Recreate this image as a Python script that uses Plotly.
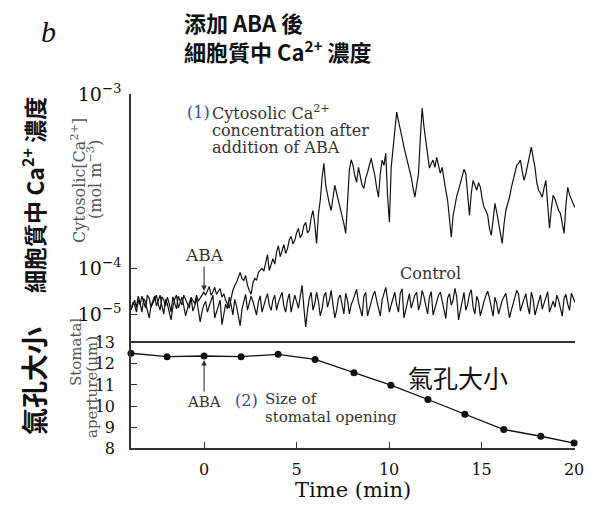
import numpy as np
import plotly.graph_objects as go

W, H = 593, 509

# ---------------- data ----------------
# cytosolic Ca2+ in micromol m^-3 (1e-6 mol m^-3): 10 -> 10^-5, 100 -> 10^-4, 1000 -> 10^-3 mol m^-3
ca_aba = [
    12.2, 18, 15.7, 11, 20.2, 16, 24.6, 17, 13.5, 26, 22.3, 14, 17.4, 21, 25.9, 16, 12.2, 24, 20.2, 15, 23.4,
    17, 11.0, 24, 18.2, 13, 24.6, 19, 15.7, 26, 21.2, 16, 13.5, 23, 20.2, 17, 25.9, 19, 22.3, 27, 30.1,
    26,
    33.2, 40, 25.9, 30, 38.6, 27, 31.6, 36, 23.4, 28, 20.2, 17, 13.5, 22, 33.2, 42, 49.6, 64, 81.9, 60, 54.8,
    70, 42.7, 33, 27.2, 48, 60.6, 55, 81.9, 92, 100, 88, 108, 120, 90.5, 104, 114, 106, 124,
    135,
    117, 126, 137, 122, 130, 146, 153, 138, 145, 160, 170, 150, 157, 176, 184, 160, 165, 196, 215, 180, 139,
    205, 246, 330, 401, 300, 263, 235, 215, 260, 300, 270, 246, 220, 202, 180, 159, 250, 366,
    420,
    391, 340, 312, 380, 342, 300, 288, 330, 356, 400, 429, 380, 342, 290, 256, 350, 418, 390, 458, 260, 184,
    380, 476, 620, 788, 700, 638, 560, 496, 450, 418, 370, 333, 290, 256, 300, 351, 560, 831,
    650,
    544, 460, 376, 400, 418, 380, 434, 390, 351, 380, 320, 280, 246, 190, 151, 200, 236, 260, 281, 310, 342,
    370, 351, 260, 202, 270, 320, 300, 281, 310, 292, 250, 224, 215, 202, 170, 155, 190, 236,
    210,
    184, 160, 139, 180, 215, 235, 256, 290, 320, 350, 391, 400, 418, 360, 320, 350, 391, 440, 496, 430, 380,
    310, 281, 270, 256, 290, 320, 230, 170, 220, 263, 250, 230, 215, 207, 180, 159, 230, 292, 265, 246, 235, 224,
]
ca_control = [
    12.2, 16, 20.2, 14, 24.6, 17, 11.0, 22, 18.2, 12, 8.2, 15, 20.2, 25, 14.9, 19, 25.9, 15, 10.0, 21, 16.5,
    11, 7.4, 14, 21.2, 26, 13.5, 18, 23.4, 15, 9.05, 13, 17.4, 23, 11.6, 15, 22.3, 12, 6.7, 11, 15.7,
    19,
    11.0, 15, 20.2, 26, 8.2, 11, 13.5, 20, 5.8, 10, 16.5, 13, 23.4, 16, 9.5, 21, 14.9, 9, 5.5, 13, 20.2,
    27, 12.2, 17, 24.6, 19, 13.5, 9.5, 18.2, 25, 11.0, 16, 21.2, 28, 15.7, 12, 20.2, 26, 12.2,
    18,
    23.4, 30, 14.9, 11, 20.2, 28, 11.0, 17, 25.9, 19, 13.5, 24, 42.7, 14, 5.2, 12, 22.3, 30, 12.2, 17, 30.1,
    19, 9.05, 13, 24.6, 30, 14.2, 20, 33.2, 16, 8.2, 12, 22.3, 26, 14.9, 10, 28.6, 20, 10.0,
    16,
    20.2, 26, 34.9, 18, 12.2, 9, 24.6, 30, 9.05, 14, 18.2, 26, 31.6, 20, 12.8, 9, 20.2, 27, 38.6, 21, 11.0,
    16, 22.3, 30, 15.7, 11, 28.6, 36, 8.2, 12, 20.2, 28, 13.5, 18, 25.9, 30, 12.2, 17, 33.2,
    24,
    14.9, 10, 23.4, 31, 9.5, 13, 20.2, 26, 30.1, 19, 11.0, 8, 22.3, 28, 15.7, 20, 36.7, 24, 7.4, 12, 20.2,
    30, 12.2, 16, 27.2, 34, 14.2, 10, 24.6, 19, 9.05, 14, 19.2, 25, 31.6, 22, 12.8, 9, 23.4,
    17,
    10.0, 14, 20.2, 24, 28.6, 15, 8.2, 12, 17.4, 22, 33.2, 27, 11.6, 16, 22.3, 28, 14.9, 10, 30.1, 21, 9.5,
    13, 20.2, 26, 12.8, 18, 24.6, 31, 11.0, 15, 19.2, 14, 25.9, 20, 12.2, 9, 22.3, 27, 16.5, 12, 28.6, 22, 18.2,
]
t_start, t_end = -3.95, 20.05          # recording time span (min)
t_aba = np.linspace(t_start, t_end, len(ca_aba))
t_ctl = np.linspace(t_start, t_end, len(ca_control))

stoma_t = [-3.95, -2, 0, 2, 4, 6, 8.1, 10.1, 12.1, 14.1, 16.2, 18.2, 20.0]
stoma_um = [12.50, 12.34, 12.37, 12.34, 12.45, 12.21, 11.58, 10.99, 10.31, 9.61, 8.89, 8.57, 8.25]

x_ticks = [0, 5, 10, 15, 20]
ap_ticks = [8, 9, 10, 11, 12, 13]
ca_ticks = [10, 100, 1000]
ca_ticktext = ["10<sup>−5</sup>", "10<sup>−4</sup>", "10<sup>−3</sup>"]

# The printed Ca axis is compressed below 10^-4: one decade there is 45.5/174.5 of a decade above.
K = 45.5 / 174.5
def ca_axis(c):
    L = np.log10(np.asarray(c, dtype=float))
    return np.where(L >= 2, L, 2 - (2 - L) * K)

def px(x, y):
    return x / W, 1 - y / H

SERIF = "DejaVu Serif"
CJK = "Noto Sans CJK TC"
INK = "#111111"
AX = "#333333"
GREY = "#555555"
BLUE = "#2f4a93"

fig = go.Figure()
fig.add_trace(go.Scatter(x=t_ctl, y=ca_axis(ca_control), xaxis="x2", yaxis="y2", mode="lines",
                         line=dict(color=INK, width=1.2), showlegend=False))
fig.add_trace(go.Scatter(x=t_aba, y=ca_axis(ca_aba), xaxis="x2", yaxis="y2", mode="lines",
                         line=dict(color=INK, width=1.2), showlegend=False))
fig.add_trace(go.Scatter(x=stoma_t, y=stoma_um, mode="lines+markers",
                         line=dict(color=INK, width=1.3), marker=dict(size=7, color=INK),
                         showlegend=False, cliponaxis=False))

xdom = [131 / W, 575 / W]
y_bot = [1 - 448.3 / H, 1 - 342.7 / H]
y_top = [1 - 342.7 / H, 1 - 94 / H]
ca_lo = 2 - (342.7 - 268.5) / 174.5

fig.update_layout(
    width=W, height=H, margin=dict(l=0, r=0, t=0, b=0, autoexpand=False),
    paper_bgcolor="white", plot_bgcolor="white",
    xaxis=dict(domain=xdom, range=[t_start, t_end], anchor="y", showline=True, linecolor=AX, linewidth=1.5,
               mirror=True, ticks="inside", ticklen=7, tickwidth=1.3, tickcolor=AX, tickvals=x_ticks,
               tickfont=dict(family=SERIF, size=16, color=INK), showgrid=False, zeroline=False,
               ticklabelstandoff=6, automargin=False),
    yaxis=dict(domain=y_bot, range=[8, 13], anchor="x", showline=True, linecolor=AX, linewidth=1.5,
               ticks="inside", ticklen=6, tickwidth=1.3, tickcolor=AX, tickvals=ap_ticks,
               tickfont=dict(family=SERIF, size=16, color=INK), showgrid=False, zeroline=False,
               ticklabelstandoff=11, automargin=False),
    xaxis2=dict(domain=xdom, range=[t_start, t_end], anchor="y2", matches="x", visible=False,
                automargin=False),
    yaxis2=dict(domain=y_top, range=[ca_lo, 3.0], anchor="x2", showline=True, linecolor=AX, linewidth=1.5,
                ticks="inside", ticklen=6, tickwidth=1.3, tickcolor=AX,
                tickvals=list(ca_axis(ca_ticks)), ticktext=ca_ticktext,
                tickfont=dict(family=SERIF, size=19, color=INK), showgrid=False, zeroline=False,
                ticklabelstandoff=4, automargin=False),
)

ann = []
def text(x, y, s, size, family=SERIF, color=INK, xanchor="center", angle=0, bold=False, italic=False):
    xp, yp = px(x, y)
    f = dict(family=family, size=size, color=color)
    if bold:
        f["weight"] = "bold"
    if italic:
        f["style"] = "italic"
    ann.append(dict(x=xp, y=yp, xref="paper", yref="paper", text=s, showarrow=False, font=f,
                    xanchor=xanchor, yanchor="middle", textangle=angle))

text(48, 31, "b", 30, family="Liberation Serif", italic=True)
text(182, 22, "添加 ABA 後", 22, family=CJK, xanchor="left", bold=True)
text(182, 50, "細胞質中 Ca<sup>2+</sup> 濃度", 22, family=CJK, xanchor="left", bold=True)
text(33, 195, "細胞質中 Ca<sup>2+</sup> 濃度", 23, family=CJK, angle=-90, bold=True)
text(33, 381, "氣孔大小", 27, family=CJK, angle=-90, bold=True)
text(78, 181, "Cytosolic[Ca<sup>2+</sup>]", 16, color=GREY, angle=-90)
text(94, 180, "(mol m<sup>−3</sup>)", 16, color=GREY, angle=-90)
text(76, 352, "Stomatal", 15, color=GREY, angle=-90)
text(92, 387, "aperture(μm)", 15, color=GREY, angle=-90)
text(198, 113, "(1)", 16, color=BLUE)
text(210, 113, "Cytosolic Ca<sup>2+</sup>", 16, color="#333333", xanchor="left")
text(210, 130, "concentration after", 16, color="#333333", xanchor="left")
text(210, 147, "addition of ABA", 16, color="#333333", xanchor="left")
text(430, 273, "Control", 16, color="#333333")
text(246, 400, "(2)", 16, color=BLUE)
text(263, 399, "Size of", 15, color="#333333", xanchor="left")
text(263, 417, "stomatal opening", 15, color="#333333", xanchor="left")
text(458, 377, "氣孔大小", 25, family=CJK)
text(353, 490, "Time (min)", 21)

ann.append(dict(x=0, y=float(ca_axis(32)), xref="x2", yref="y2", text="ABA", showarrow=True,
                arrowhead=2, arrowsize=1, arrowwidth=1.1, arrowcolor="#333333", ax=0, ay=-36,
                font=dict(family=SERIF, size=17, color="#333333")))
ann.append(dict(x=0, y=12.37, xref="x", yref="y", text="ABA", showarrow=True, standoff=4,
                arrowhead=2, arrowsize=1, arrowwidth=1.1, arrowcolor="#333333", ax=0, ay=46,
                font=dict(family=SERIF, size=15, color="#333333")))
fig.update_layout(annotations=ann)

fig.write_html("out.html")
